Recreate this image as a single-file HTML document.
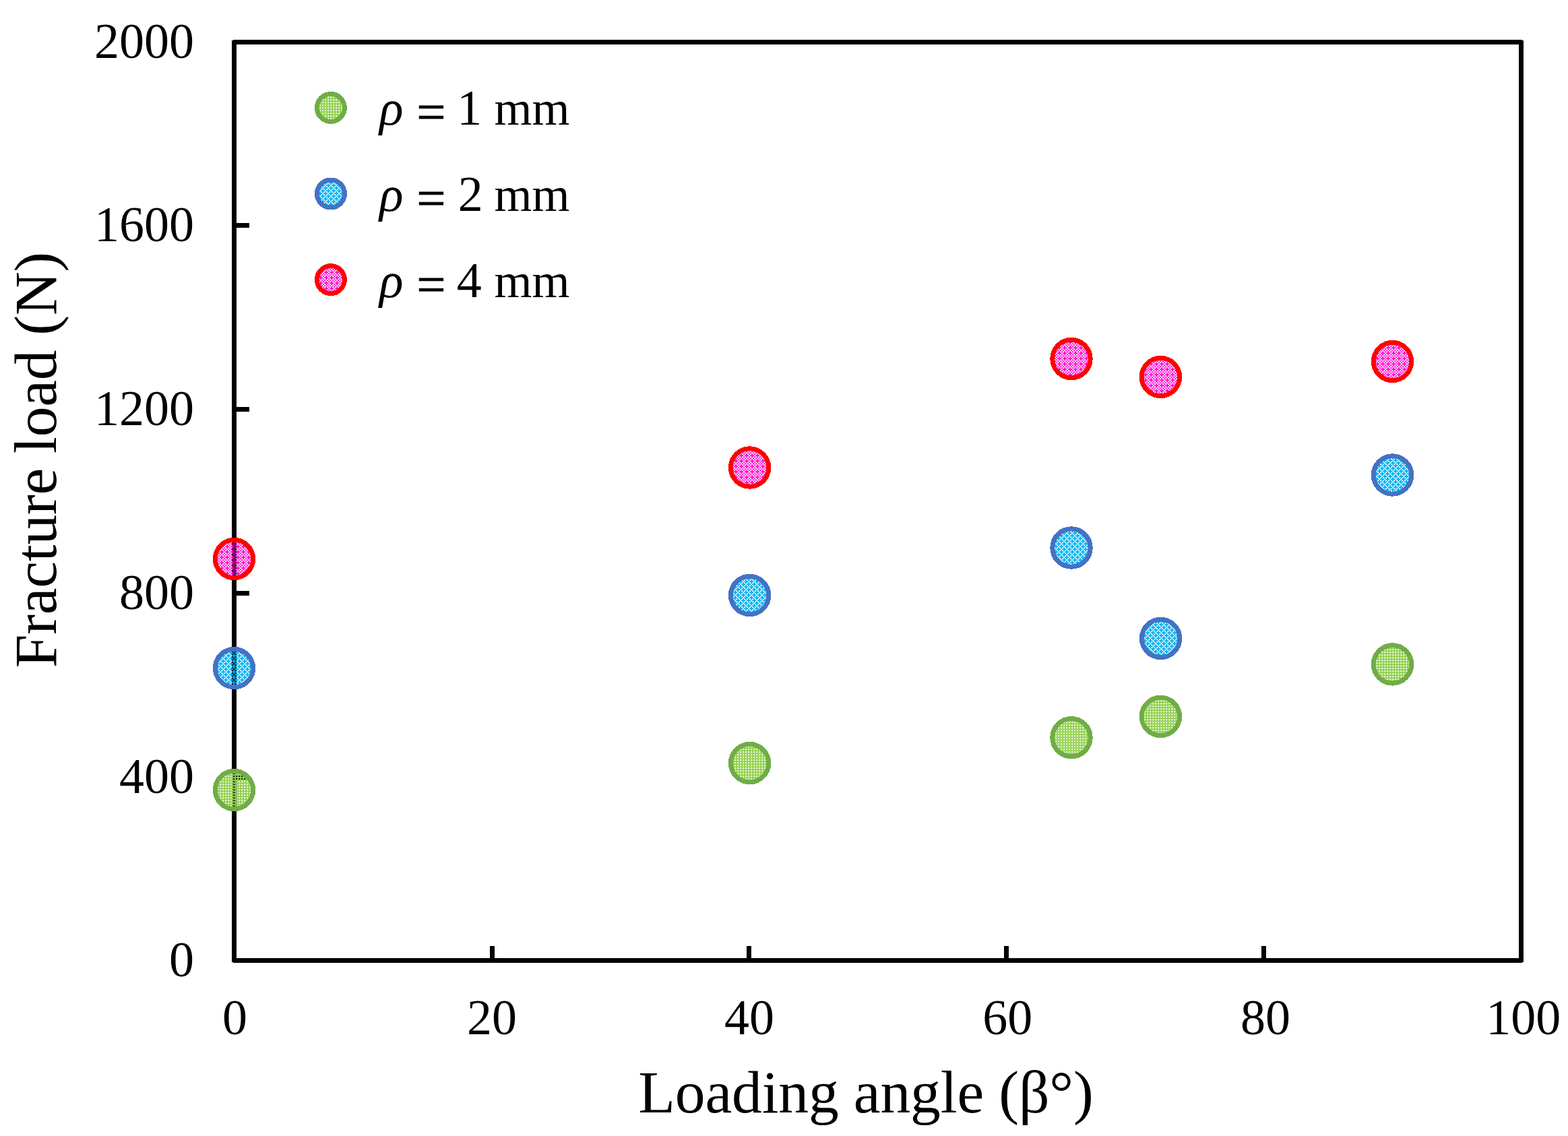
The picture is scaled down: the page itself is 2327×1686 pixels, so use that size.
<!DOCTYPE html>
<html lang="en"><head><meta charset="utf-8"><title>Fracture load vs loading angle</title>
<style>
html,body{margin:0;padding:0;background:#fff;}
body{width:2327px;height:1686px;}
svg{display:block;}
text{font-family:"Liberation Serif",serif;fill:#000;}
.dig{font-size:74px;}
.let{font-size:72px;}
.title{font-size:89.6px;}
.it{font-style:italic;}
.eq{font-size:76px;stroke:#000;stroke-width:1px;}
</style></head><body>
<svg width="2327" height="1686" viewBox="0 0 2327 1686" role="img" aria-label="Scatter chart of fracture load (N) versus loading angle">
<defs>
<pattern id="pg" patternUnits="userSpaceOnUse" x="0.25" y="1.25" width="4" height="4"><path d="M0 0H4V2H0ZM0 2H2V4H0Z" fill="#92D050" shape-rendering="crispEdges"/></pattern>
<pattern id="pb" patternUnits="userSpaceOnUse" x="0.25" y="0.25" width="8" height="8"><path d="M2 0h2v2h-2zM6 0h2v2h-2zM0 2h2v2h-2zM4 2h2v2h-2zM6 2h2v2h-2zM2 4h2v2h-2zM6 4h2v2h-2zM0 6h2v2h-2zM2 6h2v2h-2zM4 6h2v2h-2z" fill="#00B0F0" shape-rendering="crispEdges"/></pattern>
<pattern id="pr" patternUnits="userSpaceOnUse" x="1.25" y="3.25" width="8" height="8"><path d="M0 0h2v2h-2zM2 0h2v2h-2zM4 0h2v2h-2zM2 2h2v2h-2zM6 2h2v2h-2zM0 4h2v2h-2zM4 4h2v2h-2zM2 6h2v2h-2zM6 6h2v2h-2z" fill="#FF00CC" shape-rendering="crispEdges"/></pattern>
</defs>
<rect x="0" y="0" width="2327" height="1686" fill="#fff"/>
<g fill="#000" shape-rendering="crispEdges">
<rect x="346" y="59" width="1913" height="7"/>
<rect x="346" y="1422" width="1913" height="7"/>
<rect x="344" y="60" width="7" height="1368"/>
<rect x="2254" y="60" width="7" height="1368"/>
<rect x="727" y="1404" width="7" height="19"/>
<rect x="1108" y="1404" width="7" height="19"/>
<rect x="1490" y="1404" width="7" height="19"/>
<rect x="1872" y="1404" width="7" height="19"/>
<rect x="350" y="331" width="20" height="7"/>
<rect x="350" y="604" width="20" height="7"/>
<rect x="350" y="877" width="20" height="7"/>
<rect x="350" y="1150" width="20" height="7"/>
</g>
<g class="dig">
<text x="139.92" y="86.1">2000</text>
<text x="139.92" y="358.1">1600</text>
<text x="139.92" y="631.1">1200</text>
<text x="176.92" y="904.1">800</text>
<text x="176.92" y="1177.1">400</text>
<text x="250.92" y="1449.1">0</text>
</g>
<g class="dig">
<text x="330.05" y="1535.3">0</text>
<text x="692.98" y="1535.3">20</text>
<text x="1075.04" y="1535.3">40</text>
<text x="1458.37" y="1535.3">60</text>
<text x="1840.95" y="1535.3">80</text>
<text x="2205.31" y="1535.3">100</text>
</g>
<text class="title" x="947.22" y="1651" style="letter-spacing:-0.17px">Loading angle (β°)</text>
<text class="title" transform="translate(82.8 988.7) rotate(-90)" x="-2.58" y="0" style="letter-spacing:-0.28px">Fracture load (N)</text>
<g fill="url(#pg)">
<circle cx="347.5" cy="1172.5" r="28.2"/>
<circle cx="1112.6" cy="1132.6" r="28.2"/>
<circle cx="1590" cy="1094.7" r="28.2"/>
<circle cx="1722.4" cy="1063.4" r="28.2"/>
<circle cx="2066.5" cy="985.9" r="28.2"/>
</g>
<g fill="none" stroke="#70AD47" stroke-width="7" shape-rendering="crispEdges">
<circle cx="347.5" cy="1172.5" r="28.2"/>
<circle cx="1112.6" cy="1132.6" r="28.2"/>
<circle cx="1590" cy="1094.7" r="28.2"/>
<circle cx="1722.4" cy="1063.4" r="28.2"/>
<circle cx="2066.5" cy="985.9" r="28.2"/>
</g>
<g fill="url(#pb)">
<circle transform="translate(0 -2)" cx="347.5" cy="993.6" r="28.2"/>
<circle cx="1112.6" cy="883.5" r="28.2"/>
<circle cx="1590" cy="813" r="28.2"/>
<circle cx="1722.6" cy="947.5" r="28.2"/>
<circle cx="2066.5" cy="705" r="28.2"/>
</g>
<g fill="none" stroke="#4472C4" stroke-width="7" shape-rendering="crispEdges">
<circle cx="347.5" cy="991.6" r="28.2"/>
<circle cx="1112.6" cy="883.5" r="28.2"/>
<circle cx="1590" cy="813" r="28.2"/>
<circle cx="1722.6" cy="947.5" r="28.2"/>
<circle cx="2066.5" cy="705" r="28.2"/>
</g>
<g fill="url(#pr)">
<circle transform="translate(5 -1)" cx="342.5" cy="830.5" r="28.2"/>
<circle cx="1112.6" cy="694" r="28.2"/>
<circle cx="1590" cy="532.5" r="28.2"/>
<circle cx="1722.4" cy="559.5" r="28.2"/>
<circle cx="2066.5" cy="536.5" r="28.2"/>
</g>
<g fill="none" stroke="#FF0000" stroke-width="7" shape-rendering="crispEdges">
<circle cx="347.5" cy="829.5" r="28.2"/>
<circle cx="1112.6" cy="694" r="28.2"/>
<circle cx="1590" cy="532.5" r="28.2"/>
<circle cx="1722.4" cy="559.5" r="28.2"/>
<circle cx="2066.5" cy="536.5" r="28.2"/>
</g>
<g fill="url(#pg)">
<circle cx="490.9" cy="159.9" r="20.5"/>
</g>
<g fill="none" stroke="#70AD47" stroke-width="7" shape-rendering="crispEdges">
<circle cx="490.9" cy="159.9" r="20.5"/>
</g>
<g fill="url(#pb)">
<circle cx="490.9" cy="287.5" r="20.5"/>
</g>
<g fill="none" stroke="#4472C4" stroke-width="7" shape-rendering="crispEdges">
<circle cx="490.9" cy="287.5" r="20.5"/>
</g>
<g fill="url(#pr)">
<circle cx="490.9" cy="415.1" r="20.5"/>
</g>
<g fill="none" stroke="#FF0000" stroke-width="7" shape-rendering="crispEdges">
<circle cx="490.9" cy="415.1" r="20.5"/>
</g>
<text y="185.2"><tspan class="dig it" x="562.98">ρ</tspan> <tspan class="eq" x="618.41" dy="6.5">=</tspan> <tspan class="dig" x="678.32" dy="-6.5">1</tspan> <tspan class="let" x="733.39">mm</tspan></text>
<text y="313.2"><tspan class="dig it" x="562.98">ρ</tspan> <tspan class="eq" x="618.41" dy="6.5">=</tspan> <tspan class="dig" x="679.82" dy="-6.5">2</tspan> <tspan class="let" x="733.39">mm</tspan></text>
<text y="441.2"><tspan class="dig it" x="562.98">ρ</tspan> <tspan class="eq" x="618.41" dy="6.5">=</tspan> <tspan class="dig" x="677.71" dy="-6.5">4</tspan> <tspan class="let" x="733.39">mm</tspan></text>
</svg>
</body></html>
